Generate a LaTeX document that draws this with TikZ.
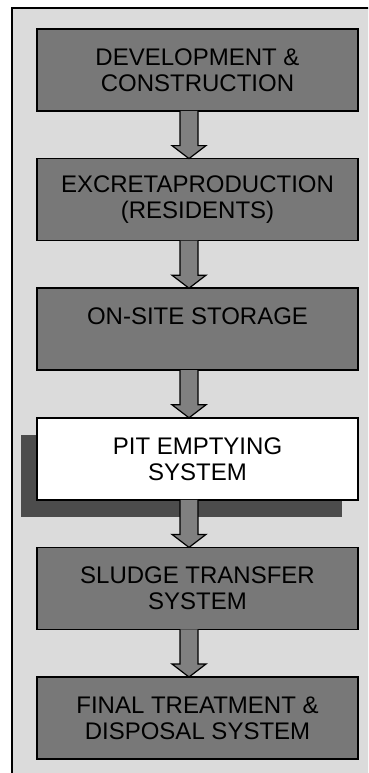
\documentclass[tikz,border=0pt]{standalone}
\usepackage{fontspec}
\setmainfont{Liberation Sans}
\usetikzlibrary{positioning}

\definecolor{pagegray}{gray}{0.86}
\definecolor{boxgray}{gray}{0.47}
\definecolor{arrowgray}{gray}{0.5}
\definecolor{shadowgray}{gray}{0.3}

\begin{document}
\begin{tikzpicture}[x=1pt,y=-1pt,
    every node/.style={font=\fontsize{24}{26}\selectfont},
    stage/.style={draw=black, line width=1.6pt, fill=boxgray,
      minimum width=321pt, minimum height=82pt, inner sep=0pt,
      outer sep=0pt, align=center},
    pitstage/.style={stage, fill=white},
    flowarrow/.style={draw=black, line width=1.2pt, fill=arrowgray,
      line join=miter}]

  \useasboundingbox (0,0) rectangle (368,773);
  \clip (0,0) rectangle (368,773);

  % ==================================================
  % Frame round the whole chain
  % ==================================================
  \filldraw[fill=pagegray, draw=black, line width=1.4pt]
    (12,8) rectangle (380,790);

  % ==================================================
  % Stages, top to bottom
  % ==================================================
  \node[stage] (dev) at (197.5,70) {DEVELOPMENT \&\\CONSTRUCTION};
  \node[stage, below=47.6pt of dev] (excreta) {EXCRETAPRODUCTION\\(RESIDENTS)};
  \node[stage, below=47.6pt of excreta] (storage) {ON-SITE STORAGE\\~};

  % -- shadow behind the highlighted stage
  \node[pitstage, below=47.6pt of storage] (pit) {PIT EMPTYING\\SYSTEM};
  \fill[shadowgray] ([xshift=-16pt,yshift=-17pt]pit.north west)
    rectangle ([xshift=-16pt,yshift=-17pt]pit.south east);
  \node[pitstage] at (pit) {PIT EMPTYING\\SYSTEM};

  \node[stage, below=47.6pt of pit] (transfer) {SLUDGE TRANSFER\\SYSTEM};
  \node[stage, below=47.6pt of transfer] (final) {FINAL TREATMENT \&\\DISPOSAL SYSTEM};

  % ==================================================
  % Block arrows between stages
  % ==================================================
  \foreach \a/\b in {dev/excreta, excreta/storage, storage/pit,
                     pit/transfer, transfer/final} {
    \draw[flowarrow]
      ([xshift=-17.5pt]\a.south)
      -- ([xshift=-17.5pt,yshift=13pt]\b.north)
      -- ([xshift=-25.5pt,yshift=13pt]\b.north)
      -- ([xshift=-8.5pt]\b.north)
      -- ([xshift=8.5pt,yshift=13pt]\b.north)
      -- ([xshift=0.5pt,yshift=13pt]\b.north)
      -- ([xshift=0.5pt]\a.south);
  }

\end{tikzpicture}
\end{document}
